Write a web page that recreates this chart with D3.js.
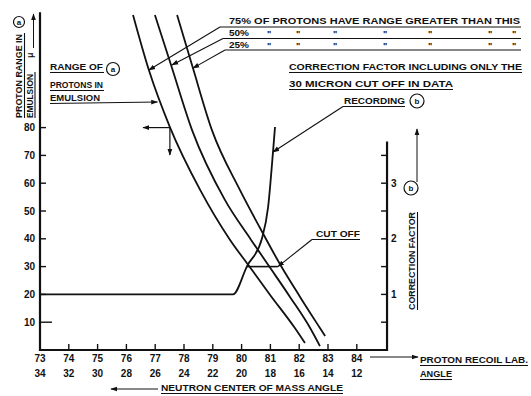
<!DOCTYPE html>
<html>
<head>
<meta charset="utf-8">
<script src="https://cdn.jsdelivr.net/npm/d3@7"></script>
<style>
  body { margin: 0; background: #fff; }
  svg text { font-family: "Liberation Sans", Arial, sans-serif; font-weight: bold; fill: #111; }
</style>
</head>
<body>
<div id="chart"></div>
<script>
// lab angle ticks and the matching neutron c.m. angles
const labAngles = [73, 74, 75, 76, 77, 78, 79, 80, 81, 82, 83, 84];
const cmAngles = [34, 32, 30, 28, 26, 24, 22, 20, 18, 16, 14, 12];
const rangeTicks = [10, 20, 30, 40, 50, 60, 70, 80];
const factorTicks = [0.5, 1, 1.5, 2, 2.5, 3, 3.5];
const factorLabels = [1, 2, 3];

// proton range (micron) vs lab angle
const range75 = [[76.23, 120.5], [76.78, 100.7], [77.51, 80.2], [78.56, 57.6], [79.60, 39.6],
  [80.26, 30.2], [80.99, 19.8], [81.85, 7.9], [82.20, 2.5]];
const range50 = [[76.99, 120.5], [77.55, 102.5], [78.28, 79.1], [79.42, 54.0], [80.33, 39.6],
  [80.95, 30.2], [81.68, 19.1], [82.38, 7.9], [82.72, 1.4]];
const range25 = [[77.76, 120.5], [78.31, 101.4], [78.97, 79.1], [79.94, 57.6], [80.64, 43.9],
  [81.37, 30.2], [82.03, 19.1], [82.72, 7.9], [82.90, 5.0]];

// correction factor for recording
const recording = [[73, 1.0], [79.70, 1.0], [80.19, 1.51], [80.71, 2.01], [80.92, 2.57],
  [81.09, 3.56], [81.16, 4.01]];

const cutoffRange = 30;
const cutoffAngles = [80.19, 81.26];

const width = 531, height = 396;
const svg = d3.select("#chart").append("svg")
  .attr("width", width)
  .attr("height", height);

const x = d3.scaleLinear().domain([73, 85]).range([40, 385.6]);
const y = d3.scaleLinear().domain([0, 120]).range([350, 16.4]);
const yF = d3.scaleLinear().domain([0, 6]).range([350, 16.4]);

svg.append("defs").append("marker")
  .attr("id", "arrow")
  .attr("viewBox", "0 0 10 10")
  .attr("refX", 9).attr("refY", 5)
  .attr("markerWidth", 7).attr("markerHeight", 7)
  .attr("markerUnits", "userSpaceOnUse")
  .attr("orient", "auto")
  .append("path")
  .attr("d", "M0,1.5 L10,5 L0,8.5 Z")
  .attr("fill", "#111");

function label(px, py, str, size, len, underline) {
  const t = svg.append("text")
    .attr("x", px).attr("y", py)
    .style("font-size", size + "px")
    .text(str);
  if (len) t.attr("textLength", len).attr("lengthAdjust", "spacingAndGlyphs");
  if (underline) {
    svg.append("line")
      .attr("x1", underline[0]).attr("x2", underline[1])
      .attr("y1", py + 2.5).attr("y2", py + 2.5)
      .attr("stroke", "#111").attr("stroke-width", 1.1);
  }
  return t;
}

function circled(cx, cy, r, letter) {
  svg.append("circle").attr("cx", cx).attr("cy", cy).attr("r", r)
    .attr("fill", "none").attr("stroke", "#111").attr("stroke-width", 1.2);
  svg.append("text").attr("x", cx).attr("y", cy + 3)
    .attr("text-anchor", "middle").style("font-size", "8px").text(letter);
}

function arrow(x1, y1, x2, y2, w) {
  svg.append("line")
    .attr("x1", x1).attr("y1", y1).attr("x2", x2).attr("y2", y2)
    .attr("stroke", "#111").attr("stroke-width", w || 1)
    .attr("marker-end", "url(#arrow)");
}

// axes
svg.append("path")
  .attr("d", `M${x(73)},${y(121.5)} V${y(0)} H${x(85.05)} V${yF(3.75)}`)
  .attr("fill", "none").attr("stroke", "#111").attr("stroke-width", 2.2);

svg.selectAll(".ltick").data(rangeTicks).enter().append("line")
  .attr("x1", x(73)).attr("x2", d => x(73) + (d === 10 ? 12 : 6))
  .attr("y1", d => y(d)).attr("y2", d => y(d))
  .attr("stroke", "#111").attr("stroke-width", 1.4);
svg.selectAll(".llab").data(rangeTicks).enter().append("text")
  .attr("x", 35).attr("y", d => y(d) + 3.5)
  .attr("text-anchor", "end").style("font-size", "10px")
  .text(d => d);

svg.selectAll(".btick").data(labAngles.slice(1)).enter().append("line")
  .attr("x1", d => x(d)).attr("x2", d => x(d))
  .attr("y1", y(0)).attr("y2", y(0) - 6)
  .attr("stroke", "#111").attr("stroke-width", 1.4);
svg.selectAll(".blab").data(labAngles).enter().append("text")
  .attr("x", d => x(d)).attr("y", 362)
  .attr("text-anchor", "middle").style("font-size", "10px")
  .text(d => d);
svg.selectAll(".clab").data(cmAngles).enter().append("text")
  .attr("x", (d, i) => x(labAngles[i])).attr("y", 377)
  .attr("text-anchor", "middle").style("font-size", "10px")
  .text(d => d);

svg.selectAll(".rtick").data(factorTicks).enter().append("line")
  .attr("x1", x(85.05)).attr("x2", x(85.05) - 6)
  .attr("y1", d => yF(d)).attr("y2", d => yF(d))
  .attr("stroke", "#111").attr("stroke-width", 1.4);
svg.selectAll(".rlab").data(factorLabels).enter().append("text")
  .attr("x", 391).attr("y", d => yF(d) + 3.5)
  .style("font-size", "10px")
  .text(d => d);

// curves
const line = d3.line().x(d => x(d[0])).y(d => y(d[1])).curve(d3.curveMonotoneX);
[range75, range50, range25].forEach(c => {
  svg.append("path").attr("d", line(c))
    .attr("fill", "none").attr("stroke", "#111").attr("stroke-width", 1.8);
});
const fline = d3.line().x(d => x(d[0])).y(d => yF(d[1])).curve(d3.curveMonotoneX);
svg.append("path").attr("d", fline(recording))
  .attr("fill", "none").attr("stroke", "#111").attr("stroke-width", 1.8);

svg.append("line")
  .attr("x1", x(cutoffAngles[0])).attr("x2", x(cutoffAngles[1]))
  .attr("y1", y(cutoffRange)).attr("y2", y(cutoffRange))
  .attr("stroke", "#111").attr("stroke-width", 1.6);

// reading construction at 80 micron
arrow(x(77.51), y(80), x(76.58), y(80), 1.2);
arrow(x(77.51), y(80), x(77.51), y(70.1), 1.2);

// top right legend
label(229, 24, "75% OF PROTONS HAVE RANGE GREATER THAN THIS", 9, 291);
label(229, 36, "50%", 9, 20);
label(229, 48, "25%", 9, 20);
const dittoX = [267, 296, 333, 383, 428, 488, 512];
[36, 48].forEach(py => {
  dittoX.forEach(px => {
    svg.append("text").attr("x", px).attr("y", py + 1).style("font-size", "9px").text("\"");
  });
});
[[27, 220, 76.78, 100.7], [38.5, 223, 77.58, 102.5], [50, 225, 78.31, 101.4]].forEach(d => {
  svg.append("line").attr("x1", d[1]).attr("x2", 521).attr("y1", d[0]).attr("y2", d[0])
    .attr("stroke", "#111").attr("stroke-width", 1.2);
  arrow(d[1], d[0], x(d[2]), y(d[3]), 1.1);
});

label(289, 70, "CORRECTION FACTOR INCLUDING ONLY THE", 9, 233, [289, 522]);
label(289, 87, "30 MICRON CUT OFF IN DATA", 9, 164, [289, 453]);

label(344, 104, "RECORDING", 9, 61, [343, 405]);
circled(417, 101, 7, "b");
arrow(343, 106.5, x(81.09), yF(3.56), 1.1);

label(316, 237, "CUT OFF", 9, 44, [312, 360]);
arrow(312, 239.5, x(cutoffAngles[1]), y(cutoffRange), 1.1);

// range of protons label
label(50, 70, "RANGE OF", 9, 53, [50, 104]);
circled(113, 69, 6.5, "a");
label(50, 88, "PROTONS IN", 9, 53, [50, 104]);
label(50, 101, "EMULSION", 9, 50);
arrow(50, 103.5, x(77.08), y(89.2), 1.1);

// left axis title (rotated)
const lt = svg.append("g").attr("transform", "translate(0,118) rotate(-90)");
lt.append("text").attr("x", 0).attr("y", 22).style("font-size", "9px")
  .attr("textLength", 84).attr("lengthAdjust", "spacingAndGlyphs").text("PROTON RANGE IN");
lt.append("line").attr("x1", 0).attr("x2", 85).attr("y1", 24.5).attr("y2", 24.5)
  .attr("stroke", "#111").attr("stroke-width", 1.1);
lt.append("text").attr("x", 0).attr("y", 33).style("font-size", "9px")
  .attr("textLength", 44).attr("lengthAdjust", "spacingAndGlyphs").text("EMULSION");
lt.append("line").attr("x1", 0).attr("x2", 46).attr("y1", 35).attr("y2", 35)
  .attr("stroke", "#111").attr("stroke-width", 1.1);
lt.append("text").attr("x", 60).attr("y", 33).style("font-size", "9px").text("\u03BC");
circled(19, 22, 5.5, "a");
arrow(33.5, 48, 33.5, 14, 1);

// right axis title (rotated)
const rt = svg.append("g").attr("transform", "translate(0,310) rotate(-90)");
rt.append("text").attr("x", 0).attr("y", 415).style("font-size", "9px")
  .attr("textLength", 98).attr("lengthAdjust", "spacingAndGlyphs").text("CORRECTION FACTOR");
rt.append("line").attr("x1", 0).attr("x2", 98).attr("y1", 417.5).attr("y2", 417.5)
  .attr("stroke", "#111").attr("stroke-width", 1.1);
circled(411, 188, 7, "b");
arrow(417, 182, 417, 129, 1);

// bottom axis titles
label(161, 391, "NEUTRON CENTER OF MASS ANGLE", 9, 182, [161, 343]);
arrow(158, 389, 111, 389, 1);
label(420, 363, "PROTON RECOIL LAB.", 9, 108, [420, 528]);
label(420, 377, "ANGLE", 9, 32, [420, 452]);
arrow(370, 357, 418, 357, 1);
</script>
</body>
</html>
